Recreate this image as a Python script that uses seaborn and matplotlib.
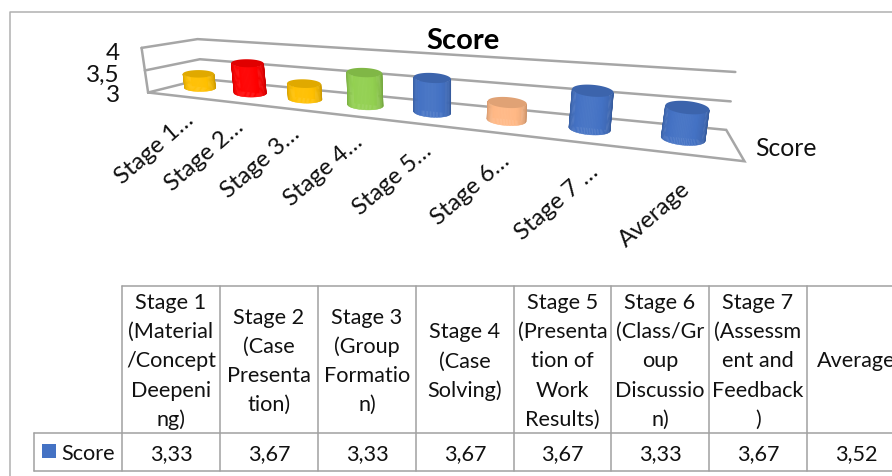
import numpy as np
import pandas as pd
import matplotlib
matplotlib.use("Agg")
import matplotlib.pyplot as plt
from matplotlib.transforms import Transform
from matplotlib.patches import Polygon
from matplotlib.colors import to_rgb
import seaborn as sns

# ---- data ----
short_labels = ["Stage 1…", "Stage 2…", "Stage 3…", "Stage 4…", "Stage 5…", "Stage 6…", "Stage 7 …", "Average"]
table_headers = [
    "Stage 1\n(Material\n/Concept\nDeepeni\nng)",
    "Stage 2\n(Case\nPresenta\ntion)",
    "Stage 3\n(Group\nFormatio\nn)",
    "Stage 4\n(Case\nSolving)",
    "Stage 5\n(Presenta\ntion of\nWork\nResults)",
    "Stage 6\n(Class/Gr\noup\nDiscussio\nn)",
    "Stage 7\n(Assessm\nent and\nFeedback\n)",
    "Average",
]
scores = [3.33, 3.67, 3.33, 3.67, 3.67, 3.33, 3.67, 3.52]
score_text = ["3,33", "3,67", "3,33", "3,67", "3,67", "3,33", "3,67", "3,52"]
bar_colors = ["#FFC000", "#FF0000", "#FFC000", "#92D050", "#4472C4", "#FFB885", "#4472C4", "#4472C4"]
series_name = "Score"
y_ticks = [3, 3.5, 4]
y_tick_text = ["3", "3,5", "4"]

W, H = 892, 477
FONT = "Lato"
GRID = "#a6a6a6"
TXT = "#111111"

sns.set_theme(style="white")
plt.rcParams["font.family"] = [FONT, "DejaVu Sans"]
fig = plt.figure(figsize=(W / 100, H / 100), dpi=100, facecolor="white")

# ---- projection of the 3-D plot box (category, value, depth) onto the picture ----
calib = [
    ((-0.5, 3, -1), (149, 93)), ((-0.5, 3.5, -1), (145, 72)), ((-0.5, 4, -1), (141, 49)),
    ((-0.5, 3, 1), (202, 81)), ((-0.5, 3.5, 1), (200, 60)), ((-0.5, 4, 1), (198, 40)),
    ((7.5, 3, 1), (725, 131)), ((7.5, 3.5, 1), (731, 102)), ((7.5, 4, 1), (735, 73)),
    ((7.5, 3, -1), (743, 163)), ((0, 3, 0), (199, 89)), ((7, 3, 0), (686, 141)),
    ((3.5, 3, 0), (398, 107)),
]
A, b = [], []
for (cx, cy, cz), (px, py) in calib:
    A.append([cx, cy, cz, 1, 0, 0, 0, 0, -px * cx, -px * cy, -px * cz]); b.append(px)
    A.append([0, 0, 0, 0, cx, cy, cz, 1, -py * cx, -py * cy, -py * cz]); b.append(py)
P = np.append(np.linalg.lstsq(np.array(A, float), np.array(b, float), rcond=None)[0], 1).reshape(3, 4)


def project(c, v, z=0.0):
    q = P @ np.array([c, v, z, 1.0])
    return q[:2] / q[2]


class BoxTransform(Transform):
    input_dims = output_dims = 2
    is_affine = False
    has_inverse = False

    def transform_non_affine(self, values):
        values = np.asarray(values, float)
        out = np.array([project(c, v) for c, v in values]).reshape(-1, 2)
        out[:, 1] = H - out[:, 1]
        return out


# background layer in pixel coordinates
pix = fig.add_axes([0, 0, 1, 1], zorder=0)
pix.set_xlim(0, W); pix.set_ylim(H, 0); pix.axis("off")

# frame
pix.plot([10, 10, W], [H, 12.5, 12.5], color="#b0b0b0", lw=1.1, solid_capstyle="butt")

# walls
L, R = -0.5, 7.5
for v in y_ticks:
    pts = [project(L, v, -1), project(L, v, 1), project(R, v, 1)]
    if v == y_ticks[0]:
        pts += [project(R, v, -1), project(L, v, -1)]
    pts = np.array(pts)
    pix.plot(pts[:, 0], pts[:, 1], color=GRID, lw=1.8, solid_joinstyle="miter")
edge = np.array([project(L, y_ticks[0], -1), project(L, y_ticks[-1], -1)])
pix.plot(edge[:, 0], edge[:, 1], color=GRID, lw=1.8)

# ---- seaborn bars, re-projected ----
df = pd.DataFrame({"stage": short_labels, "score": scores})
ax = fig.add_axes([0, 0, 1, 1], zorder=1)
ax.patch.set_visible(False)
sns.barplot(data=df, x="stage", y="score", hue="stage", palette=bar_colors, legend=False,
            width=0.38, saturation=1, ax=ax)
ax.set_ylim(3, 4)
ax.axis("off")
tr = BoxTransform()


def shade(col, f):
    c = np.array(to_rgb(col))
    return tuple(np.clip(c * f if f < 1 else c + (1 - c) * (f - 1), 0, 1))


for patch, col in zip(ax.patches, bar_colors):
    c = patch.get_x() + patch.get_width() / 2
    v = patch.get_height()
    base = y_ticks[0]
    patch.set_y(base)
    patch.set_height(v - base)
    patch.set_transform(tr)
    patch.set_clip_on(False)

    bot, top = project(c, base), project(c, v)
    s = np.hypot(*(project(c, 4) - project(c, 3)))
    r = 0.36 * s
    e = r * (0.24 + 0.05 * c / 7)
    t = np.radians(c / 7 * 6)
    ux, uy = np.cos(t), np.sin(t)
    vx, vy = -uy, ux

    def ring(center, th):
        return (center[0] + r * np.cos(th) * ux + e * np.sin(th) * vx,
                center[1] + r * np.cos(th) * uy + e * np.sin(th) * vy)

    th = np.linspace(np.pi, 0, 41)   # front half, left to right
    for i in range(len(th) - 1):
        x0, y0 = ring(top, th[i]); x1, y1 = ring(top, th[i + 1])
        x2, y2 = ring(bot, th[i + 1]); x3, y3 = ring(bot, th[i])
        m = (i + 0.5) / (len(th) - 1)
        f = 0.80 + 0.24 * np.sin(np.pi * m ** 0.9)
        ax.add_patch(Polygon([(x0, y0), (x1, y1), (x2, y2), (x3, y3)], closed=True,
                             transform=pix.transData, facecolor=shade(col, f), edgecolor=shade(col, f),
                             lw=0.3, clip_on=False, zorder=3))
    all_th = np.linspace(0, 2 * np.pi, 60)
    xs, ys = ring(top, all_th)
    ax.add_patch(Polygon(np.c_[xs, ys], closed=True, transform=pix.transData,
                         facecolor=shade(col, 0.88), edgecolor="none", clip_on=False, zorder=4))

# ---- category labels, y tick labels, title ----
for i, lab in enumerate(short_labels):
    x, y = project(i, y_ticks[0], -1)
    dx = 18 - 1.4 * i if lab.endswith("…") else -1
    dy = 20.5 + 0.8 * i if lab.endswith("…") else 31
    pix.text(x + dx, y + dy, lab, rotation=41, rotation_mode="anchor", ha="right", va="center",
             fontsize=17.2, color=TXT)
for v, lab, yy in zip(y_ticks, y_tick_text, [96, 75, 54]):
    pix.text(120, yy, lab, ha="right", va="center", fontsize=17.5, color=TXT)
pix.text(463, 41, series_name, ha="center", va="center", fontsize=21, fontweight="bold", color="#000000")
pix.text(755, 149, series_name, ha="left", va="center", fontsize=17.8, color=TXT)

# ---- data table ----
cols = [122, 220, 318, 416, 514, 611, 709, 807, 905]
top_y, mid_y, bot_y, left_x = 287, 434, 472, 34
LINE = "#a0a0a0"
pix.plot([cols[0], W], [top_y, top_y], color=LINE, lw=1.1)
pix.plot([left_x, W], [mid_y, mid_y], color=LINE, lw=1.1)
pix.plot([left_x, W], [bot_y, bot_y], color=LINE, lw=1.1)
pix.plot([left_x, left_x], [mid_y, bot_y], color=LINE, lw=1.1)
for x in cols[:-1]:
    pix.plot([x, x], [top_y, bot_y], color=LINE, lw=1.1)
line_h = 29.2
for i, head in enumerate(table_headers):
    xc = (cols[i] + cols[i + 1]) / 2
    parts = head.split("\n")
    y0 = (top_y + mid_y) / 2 - (len(parts) - 1) * line_h / 2 + 1
    for j, part in enumerate(parts):
        pix.text(xc, y0 + j * line_h, part, ha="center", va="center", fontsize=15.6, color=TXT)
    pix.text(xc, (mid_y + bot_y) / 2 + 1.5, score_text[i], ha="center", va="center", fontsize=15.6, color=TXT)
pix.add_patch(plt.Rectangle((42, 445), 14, 14, facecolor="#4472C4", edgecolor="none"))
pix.text(61, (mid_y + bot_y) / 2 + 1, series_name, ha="left", va="center", fontsize=15.6, color=TXT)

fig.savefig("out.png", dpi=100)
